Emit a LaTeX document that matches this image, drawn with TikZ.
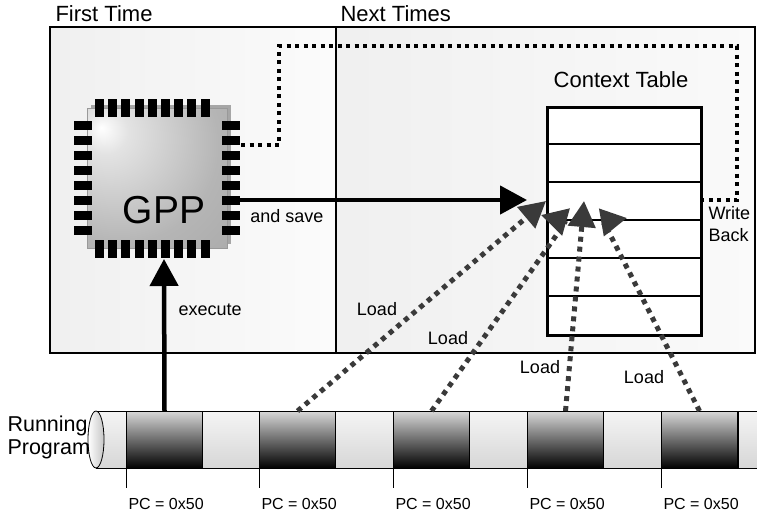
\documentclass[tikz,border=0pt]{standalone}
\usepackage{fontspec}
\setmainfont{Liberation Sans}
\usepackage{xcolor}
\usepackage{tikz}
\usetikzlibrary{arrows.meta, positioning}

\definecolor{loadgray}{HTML}{3A3A3A}
\pgfdeclareradialshading{chipglow}{\pgfpoint{-20bp}{18bp}}{color(0bp)=(white); color(8bp)=(gray!22); color(35bp)=(gray!58); color(60bp)=(gray!70); color(100bp)=(gray!75)}

\begin{document}
\begin{tikzpicture}[x=1pt, y=-1pt,
  title/.style={font=\fontsize{22}{24}\selectfont},
  note/.style={font=\fontsize{18}{22}\selectfont},
  pclbl/.style={font=\fontsize{16}{18}\selectfont, anchor=base west},
  bigarrow/.style={line width=4.5pt, -{Triangle[length=27pt, width=28pt]}},
  loadarrow/.style={draw=loadgray, line width=5pt, dash pattern=on 5pt off 5pt, -{Triangle[length=26pt, width=27pt]}},
  wbline/.style={line width=4pt, dash pattern=on 4pt off 4.5pt},
  chip/.style={minimum size=140pt, inner sep=0pt, shading=chipglow, draw=gray!80},
  darkseg/.style={minimum width=76pt, minimum height=57pt, inner sep=0pt, anchor=north west,
    top color=gray!32, bottom color=black, draw=black, line width=1pt},
]
\useasboundingbox (0,0) rectangle (757,512);

% the two panels
\shade[left color=gray!12, right color=gray!3] (50,27) rectangle (336,353);
\shade[left color=gray!12, right color=gray!4] (336,27) rectangle (755,353);
\draw[line width=2pt] (50,27) rectangle (755,353);
\draw[line width=2.5pt] (336,27) -- (336,353);
\node[title, anchor=west] (first) at (52,14) {First Time};
\node[title, anchor=west] (next) at (337,14) {Next Times};

% context table
\node[draw, line width=2.5pt, fill=white, minimum width=154pt, minimum height=228pt,
  inner sep=0pt, anchor=north west] (ctab) at (546,106) {};
\foreach \k in {1,...,5}
  \draw[line width=2.5pt] ([yshift=-\k*38pt]ctab.north west) -- ([yshift=-\k*38pt]ctab.north east);
\node[title] (ctabtitle) at (621,80) {Context Table};

% the processor
\fill[gray!70] (91,105) rectangle (231,244);
\node[chip] (gpp) at (157,178) {};
\foreach \i in {0,...,8} {
  \fill ({95+\i*13.2},99) rectangle ++(9,18);
  \fill ({95+\i*13.2},240) rectangle ++(9,18);
}
\foreach \j in {0,...,7} {
  \fill (74,{121+\j*15}) rectangle ++(18,9);
  \fill (222,{121+\j*15}) rectangle ++(18,9);
}
\node[font=\fontsize{39}{40}\selectfont] (gpptxt) at (164,210) {GPP};

% write back path
\coordinate (wbstart) at (241,145);
\draw[wbline] (wbstart) -- (279,145) -- (279,46) -- (737,46) -- (737,200) -- ([yshift=-94pt]ctab.north east);
\node[note, align=left, anchor=west] (wblbl) at (705,224) {Write\\Back};

% execute and save
\coordinate (savetip) at (527,200);
\draw[bigarrow] ([xshift=13pt, yshift=-22pt]gpp.east) -- (savetip);
\node[note] (savelbl) at (287,216) {and save};

% running program
\shade[top color=gray!8, bottom color=gray!32] (96,411) rectangle (757,468);
\draw[line width=0.8pt] (96,411) -- (757,411) (96,468) -- (757,468);
\foreach \x [count=\n] in {126,259,393,527,661}
  \node[darkseg] (seg\n) at (\x,411) {};
\draw[line width=1pt] (738,411) -- (738,468);
\shade[left color=white, right color=gray!45, draw=black, line width=0.8pt]
  (96,439.5) ellipse [x radius=8pt, y radius=28.5pt];
\node[font=\fontsize{21.5}{23}\selectfont, align=left, anchor=west] (prog) at (4,437) {Running\\Program};
\foreach \n in {1,...,5} {
  \draw[line width=1pt] (seg\n.south west) -- ++(0,19);
  \node[pclbl] (pc\n) at ([xshift=-1pt, yshift=-40pt]seg\n.south west) {PC = 0x50};
}

\coordinate (exectip) at (164,259);
\draw[bigarrow] (seg1.north) -- (exectip);
\node[note, anchor=west] (execlbl) at (175,310) {execute};

% loads back into the table
\coordinate (t1) at (546,201);
\coordinate (t2) at (541,215);
\coordinate (t3) at (584,201);
\coordinate (t4) at (627,218);
\draw[loadarrow] (seg2.north) -- (t1);
\draw[loadarrow] (seg3.north) .. controls (566,222) .. (t2);
\draw[loadarrow] (seg4.north) -- (t3);
\draw[loadarrow] (seg5.north) .. controls (604,222) .. (t4);
\node[note] (load1) at (377,309) {Load};
\node[note] (load2) at (448,338) {Load};
\node[note] (load3) at (540,367) {Load};
\node[note] (load4) at (644,377) {Load};
\end{tikzpicture}
\end{document}
